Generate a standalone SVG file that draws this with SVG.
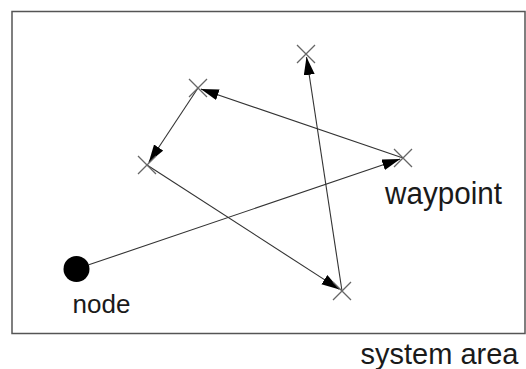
<svg xmlns="http://www.w3.org/2000/svg" width="526" height="369" viewBox="0 0 526 369">
  <style>
    .area { fill: #ffffff; stroke: #555555; stroke-width: 1.5; }
    .wp { stroke: #666666; stroke-width: 1.3; fill: none; }
    .conn { stroke: #333333; stroke-width: 1.1; fill: none; marker-end: url(#arrow); }
    .label { font-family: "Liberation Sans", Arial, sans-serif; fill: #1a1a1a; }
  </style>
  <defs>
    <marker id="arrow" markerUnits="userSpaceOnUse" markerWidth="19" markerHeight="12" refX="18" refY="5.5" orient="auto">
      <path d="M0,0 L18,5.5 L0,11 z" fill="#000000"/>
    </marker>
    <path id="cross" d="M-9,-9 L9,9 M-9,9 L9,-9"/>
  </defs>
  <rect class="area" x="12" y="11.5" width="513" height="322"/>

  <g id="connectors">
    <line class="conn" x1="88.8" y1="264.8" x2="400.2" y2="159"/>
    <line class="conn" x1="403" y1="158" x2="200.8" y2="89"/>
    <line class="conn" x1="198" y1="88" x2="148.7" y2="162.5"/>
    <line class="conn" x1="147" y1="165" x2="339.5" y2="289.4"/>
    <line class="conn" x1="342" y1="291" x2="306.5" y2="57"/>
  </g>

  <g id="node">
    <circle cx="76.5" cy="269" r="13" fill="#000000"/>
    <text class="label" x="72.5" y="313" font-size="26">node</text>
  </g>
  <g id="wp1"><use href="#cross" class="wp" transform="translate(306,54)"/></g>
  <g id="wp2"><use href="#cross" class="wp" transform="translate(198,88)"/></g>
  <g id="wp3"><use href="#cross" class="wp" transform="translate(147,165)"/></g>
  <g id="wp4">
    <use href="#cross" class="wp" transform="translate(403,158)"/>
    <text class="label" x="385" y="204" font-size="31" textLength="117" lengthAdjust="spacingAndGlyphs">waypoint</text>
  </g>
  <g id="wp5"><use href="#cross" class="wp" transform="translate(342,291)"/></g>
  <g id="system-area-label">
    <text class="label" x="360.5" y="363.5" font-size="30" textLength="158" lengthAdjust="spacingAndGlyphs">system area</text>
  </g>
</svg>
